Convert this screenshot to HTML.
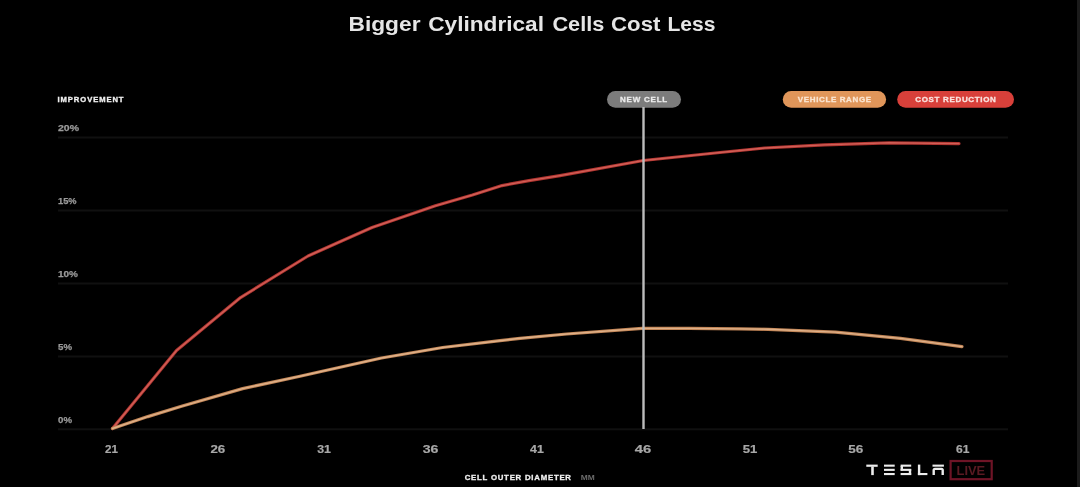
<!DOCTYPE html>
<html>
<head>
<meta charset="utf-8">
<style>
html,body{margin:0;padding:0;background:#000;width:1080px;height:487px;overflow:hidden;}
svg{display:block;filter:blur(0.35px);}
text{font-family:"Liberation Sans",sans-serif;}
</style>
</head>
<body>
<svg width="1080" height="487" viewBox="0 0 1080 487">
<rect x="0" y="0" width="1080" height="487" fill="#000"/>
<rect x="1077" y="0" width="3" height="487" fill="#1b1b1b"/>
<!-- title -->
<g font-size="20.3" font-weight="bold" fill="#e6e6e6">
<text x="348.5" y="31" textLength="72.0" lengthAdjust="spacingAndGlyphs">Bigger</text>
<text x="428.2" y="31" textLength="115.8" lengthAdjust="spacingAndGlyphs">Cylindrical</text>
<text x="552.4" y="31" textLength="51.9" lengthAdjust="spacingAndGlyphs">Cells</text>
<text x="611.1" y="31" textLength="49.3" lengthAdjust="spacingAndGlyphs">Cost</text>
<text x="667.5" y="31" textLength="48.0" lengthAdjust="spacingAndGlyphs">Less</text>
</g>

<!-- axis label -->
<text x="57.5" y="102" font-size="7.6" font-weight="bold" fill="#f0f0f0" stroke="#f0f0f0" stroke-width="0.35" textLength="66" lengthAdjust="spacing">IMPROVEMENT</text>

<!-- gridlines -->
<g fill="#101010">
<rect x="58" y="136.5" width="950" height="2"/>
<rect x="58" y="209.5" width="950" height="2"/>
<rect x="58" y="282.5" width="950" height="2"/>
<rect x="58" y="355.5" width="950" height="2"/>
<rect x="58" y="428.3" width="950" height="2"/>
</g>

<!-- y labels -->
<g font-size="9.3" font-weight="bold" fill="#9a9a9a" stroke="#9a9a9a" stroke-width="0.25">
<text x="58" y="131" textLength="21" lengthAdjust="spacingAndGlyphs">20%</text>
<text x="58" y="204" textLength="18.6" lengthAdjust="spacingAndGlyphs">15%</text>
<text x="58" y="277" textLength="20" lengthAdjust="spacingAndGlyphs">10%</text>
<text x="58" y="350.4" textLength="14" lengthAdjust="spacingAndGlyphs">5%</text>
<text x="58" y="423" textLength="14" lengthAdjust="spacingAndGlyphs">0%</text>
</g>

<!-- x labels -->
<g font-size="11.2" font-weight="bold" fill="#a8a8a8" stroke="#a8a8a8" stroke-width="0.2">
<text x="105.0" y="452.8" textLength="12.9" lengthAdjust="spacingAndGlyphs">21</text>
<text x="210.4" y="452.8" textLength="14.8" lengthAdjust="spacingAndGlyphs">26</text>
<text x="317.2" y="452.8" textLength="13.8" lengthAdjust="spacingAndGlyphs">31</text>
<text x="422.7" y="452.8" textLength="15.7" lengthAdjust="spacingAndGlyphs">36</text>
<text x="530.1" y="452.8" textLength="13.8" lengthAdjust="spacingAndGlyphs">41</text>
<text x="634.8" y="452.8" textLength="16.4" lengthAdjust="spacingAndGlyphs">46</text>
<text x="742.7" y="452.8" textLength="14.6" lengthAdjust="spacingAndGlyphs">51</text>
<text x="848.3" y="452.8" textLength="15.0" lengthAdjust="spacingAndGlyphs">56</text>
<text x="956.1" y="452.8" textLength="13.4" lengthAdjust="spacingAndGlyphs">61</text>
</g>

<!-- x axis title -->
<text x="464.7" y="480.3" font-size="7.8" font-weight="bold" fill="#f0f0f0" stroke="#f0f0f0" stroke-width="0.3" textLength="106.3" lengthAdjust="spacing">CELL OUTER DIAMETER</text>
<text x="580.7" y="480.3" font-size="7.8" font-weight="bold" fill="#6a6a6a" textLength="14" lengthAdjust="spacingAndGlyphs">MM</text>

<!-- new cell marker -->
<rect x="607" y="91" width="74" height="16.8" rx="8.4" fill="#7c7c7c"/>
<text x="620" y="102.2" font-size="8" font-weight="bold" fill="#ececec" stroke="#ececec" stroke-width="0.3" textLength="47.2" lengthAdjust="spacing">NEW CELL</text>

<!-- legend -->
<rect x="782.8" y="91" width="103.3" height="16.8" rx="8.4" fill="#e0965a"/>
<text x="797.8" y="102" font-size="8" font-weight="bold" fill="#fbe6d2" stroke="#fbe6d2" stroke-width="0.3" textLength="73.3" lengthAdjust="spacing">VEHICLE RANGE</text>
<rect x="897.2" y="91" width="116.8" height="16.8" rx="8.4" fill="#d8403a"/>
<text x="915.3" y="102" font-size="8" font-weight="bold" fill="#fbe4e0" stroke="#fbe4e0" stroke-width="0.3" textLength="80.6" lengthAdjust="spacing">COST REDUCTION</text>

<!-- curves -->
<defs><filter id="soft" x="-5%" y="-5%" width="110%" height="110%"><feGaussianBlur stdDeviation="0.6"/></filter></defs>
<g fill="none" stroke-linejoin="round" stroke-linecap="round" filter="url(#soft)">
<polyline stroke="#b03430" stroke-width="3.2" points="112.5,428.5 176.5,350.5 240.5,297.6 308,256 341.6,241 372,227.5 435.4,205.8 472.4,195 502,185.6 529,180.6 560,175.6 643.3,160.5 720,152.5 764.8,148 824.4,144.9 889,142.8 959,143.6"/>
<polyline stroke="#d05e56" stroke-width="1.4" points="112.5,428.5 176.5,350.5 240.5,297.6 308,256 341.6,241 372,227.5 435.4,205.8 472.4,195 502,185.6 529,180.6 560,175.6 643.3,160.5 720,152.5 764.8,148 824.4,144.9 889,142.8 959,143.6"/>
<polyline stroke="#c08456" stroke-width="3.2" points="112.5,428.5 147.8,416.6 181.5,406.3 242.6,388.6 300,376.2 320,371.8 381.5,358 442.6,347.5 500,340.7 520,338.3 566.7,334 642.2,328.4 688.9,328.4 740,328.9 768.1,329.3 835.5,332.1 900.5,338.4 962,346.6"/>
<polyline stroke="#deb088" stroke-width="1.4" points="112.5,428.5 147.8,416.6 181.5,406.3 242.6,388.6 300,376.2 320,371.8 381.5,358 442.6,347.5 500,340.7 520,338.3 566.7,334 642.2,328.4 688.9,328.4 740,328.9 768.1,329.3 835.5,332.1 900.5,338.4 962,346.6"/>
</g>
<rect x="642.3" y="107" width="2.4" height="322" fill="#bcbcbc"/>
<!-- tesla logo -->
<g fill="#ececec">
<!-- T -->
<rect x="866.3" y="464.6" width="11.4" height="2.2"/>
<rect x="871.2" y="466.5" width="2.6" height="8.6"/>
<!-- E -->
<rect x="884" y="464.6" width="10.7" height="2.1"/>
<rect x="884" y="468.8" width="10.7" height="2.1"/>
<rect x="884" y="473" width="10.7" height="2.1"/>
<!-- S -->
<rect x="900.6" y="464.6" width="10.6" height="2.1"/>
<rect x="900.6" y="466" width="2.4" height="4.6"/>
<rect x="900.6" y="468.8" width="10.6" height="2.1"/>
<rect x="908.8" y="469" width="2.4" height="6"/>
<rect x="900.6" y="473" width="10.6" height="2.1"/>
<!-- L -->
<rect x="917.9" y="464.6" width="2.4" height="10.5"/>
<rect x="917.9" y="473" width="9.5" height="2.1"/>
<!-- A -->
<rect x="932.5" y="464.6" width="11.4" height="2.1"/>
<path d="M932.5 475.1 V470.3 Q932.5 467.8 935 467.8 H941.4 Q943.9 467.8 943.9 470.3 V475.1 H941.5 V470.1 H934.9 V475.1 Z"/>
</g>
<!-- LIVE -->
<rect x="950.6" y="461" width="41.1" height="18.2" fill="none" stroke="#6e1426" stroke-width="2.2"/>
<text x="956.5" y="474.5" font-size="12.4" font-weight="bold" fill="#5a1a22" textLength="28.7" lengthAdjust="spacingAndGlyphs">LIVE</text>
</svg>
</body>
</html>
